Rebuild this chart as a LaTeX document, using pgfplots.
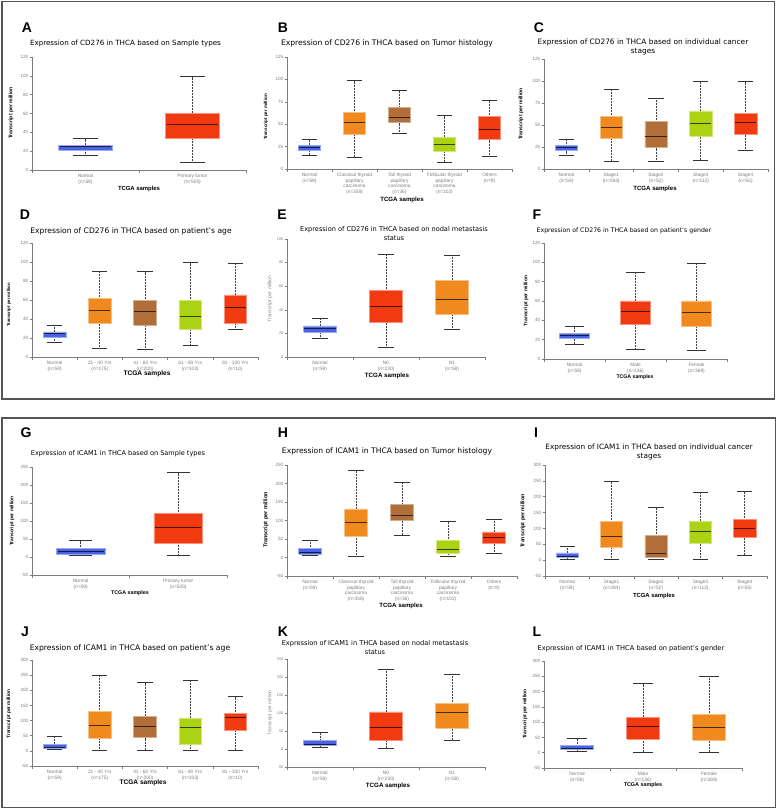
\documentclass[border=0pt]{standalone}
\usepackage{pgfplots}
\pgfplotsset{compat=1.18}
\usepackage{fontspec}
\setmainfont{DejaVu Sans}
\newfontfamily\lib{Liberation Sans}
\definecolor{cblue}{RGB}{74,98,228}
\definecolor{cred}{RGB}{242,58,16}
\definecolor{corange}{RGB}{240,138,30}
\definecolor{cbrown}{RGB}{178,110,56}
\definecolor{cgreen}{RGB}{172,210,20}
\definecolor{framec}{RGB}{85,85,85}
\definecolor{tickc}{RGB}{125,125,125}

\pgfplotsset{
  ual/.style={
    scale only axis, anchor=south west, clip=false,
    axis lines=left, axis line style={-, draw=tickc, line width=0.7pt},
    x axis line style={-}, y axis line style={-},
    xmin=0.5, tick align=outside,
    major tick length=2.5pt, minor tick length=2.5pt,
    tick style={draw=tickc, line width=0.6pt},
    every major x tick/.append style={draw=none},
    /pgf/number format/assume math mode=true,
    yticklabel style={font=\lib\fontsize{4.6}{5}\selectfont, text=tickc, inner sep=1pt},
    xticklabel style={font=\lib\fontsize{4.8}{5.8}\selectfont, text=tickc, align=center, inner sep=1.2pt},
  },
}
\def\capw{0.16}
% #1 colour, #2 position, #3 lower whisker, #4 Q1, #5 median, #6 Q3, #7 upper whisker
\newcommand{\bp}[7]{%
  \pgfmathsetmacro\bxL{#2-0.25}\pgfmathsetmacro\bxR{#2+0.25}%
  \pgfmathsetmacro\cpL{#2-\capw}\pgfmathsetmacro\cpR{#2+\capw}%
  \pgfmathsetmacro\mdL{#2-0.235}\pgfmathsetmacro\mdR{#2+0.235}%
  \edef\tmpplot{%
    \noexpand\addplot[draw=black!75, line width=0.7pt, dash pattern=on 0.7pt off 0.8pt] coordinates {(#2,#3) (#2,#4)};
    \noexpand\addplot[draw=black!75, line width=0.7pt, dash pattern=on 0.7pt off 0.8pt] coordinates {(#2,#6) (#2,#7)};
    \noexpand\addplot[draw=black!80, line width=0.7pt] coordinates {(\cpL,#3) (\cpR,#3)};
    \noexpand\addplot[draw=black!80, line width=0.7pt] coordinates {(\cpL,#7) (\cpR,#7)};
    \noexpand\addplot[fill=#1, draw=#1!55!white, line width=0.6pt] coordinates {(\bxL,#4) (\bxR,#4) (\bxR,#6) (\bxL,#6) (\bxL,#4)};
    \noexpand\addplot[draw=#1!30!black, line width=0.9pt] coordinates {(\mdL,#5) (\mdR,#5)};
  }\tmpplot}

\newcommand{\lett}[3]{\node[font=\lib\bfseries\fontsize{14}{14}\selectfont, inner sep=0pt] at (#1pt,-#2pt) {#3};}
\newcommand{\ttl}[4]{\node[font=\fontsize{#3}{9}\selectfont, align=center, inner sep=0pt] at (#1pt,-#2pt) {#4};}
\newcommand{\xl}[3]{\node[font=\lib\bfseries\fontsize{#3}{#3}\selectfont, inner sep=0pt] at (#1pt,-#2pt) {TCGA samples};}
\newcommand{\yl}[3]{\node[font=\lib\bfseries\fontsize{#3}{#3}\selectfont, rotate=90, inner sep=0pt] at (#1pt,-#2pt) {Transcript per million};}
\newcommand{\ylg}[3]{\node[font=\lib\fontsize{#3}{#3}\selectfont, text=black!45, rotate=90, inner sep=0pt] at (#1pt,-#2pt) {Transcript per million};}

\begin{document}
\begin{tikzpicture}
\fill[white] (0,0) rectangle (777pt,-809pt);
\useasboundingbox (0,0) rectangle (777pt,-809pt);
\draw[framec, line width=1.8pt] (2pt,-1.5pt) rectangle (774.5pt,-399pt);
\draw[framec, line width=1.8pt] (2pt,-418pt) rectangle (775.5pt,-807.5pt);

% ---------------- A
\def\capw{0.12}
\begin{axis}[ual, at={(32pt,-170pt)}, width=214pt, height=113pt,
  xmax=2.5, ymin=0, ymax=120, ytick={0,20,...,120},
  xtick={1,2}, minor xtick={0.5,1.5,2.5},
  xticklabels={{Normal\\(n=59)},{Primary tumor\\(n=505)}}]
\bp{cblue}{1}{15.5}{21}{24.5}{26.5}{33.3}
\bp{cred}{2}{7.8}{33.2}{48.4}{60.4}{99.2}
\end{axis}
% ---------------- B
\def\capw{0.17}
\begin{axis}[ual, at={(287pt,-169pt)}, width=225pt, height=112pt,
  xmax=5.5, ymin=0, ymax=125, ytick={0,25,...,125},
  xtick={1,...,5}, minor xtick={0.5,1.5,...,5.5},
  xticklabels={{Normal\\(n=59)},{Classical thyroid\\papillary\\carcinoma\\(n=358)},{Tall thyroid\\papillary\\carcinoma\\(n=36)},{Follicular thyroid\\papillary\\carcinoma\\(n=102)},{Others\\(n=9)}}]
\bp{cblue}{1}{15.5}{21}{24.6}{26.6}{33.3}
\bp{corange}{2}{13.3}{38.5}{51.4}{62.9}{98.7}
\bp{cbrown}{3}{39.9}{51.8}{57}{68.4}{87.6}
\bp{cgreen}{4}{7.8}{20}{27.7}{35.5}{59.5}
\bp{cred}{5}{14.1}{32.9}{44}{58.8}{76.6}
\end{axis}
% ---------------- C
\begin{axis}[ual, at={(544pt,-169pt)}, width=224pt, height=110pt,
  xmax=5.5, ymin=0, ymax=125, ytick={0,25,...,125},
  xtick={1,...,5}, minor xtick={0.5,1.5,...,5.5},
  xticklabels={{Normal\\(n=59)},{Stage1\\(n=284)},{Stage2\\(n=52)},{Stage3\\(n=112)},{Stage4\\(n=55)}}]
\bp{cblue}{1}{15.5}{21}{24.5}{26.5}{33.3}
\bp{corange}{2}{9.1}{34.4}{47.6}{59.7}{90.6}
\bp{cbrown}{3}{8.7}{24.2}{36.6}{54}{80.8}
\bp{cgreen}{4}{10.2}{37}{52.1}{66.1}{100.1}
\bp{cred}{5}{21.1}{38.9}{53.2}{63.4}{99.3}
\end{axis}
% ---------------- D
\begin{axis}[ual, at={(32pt,-357pt)}, width=226pt, height=114pt,
  xmax=5.5, ymin=0, ymax=120, ytick={0,20,...,120},
  xtick={1,...,5}, minor xtick={0.5,1.5,...,5.5},
  xticklabels={{Normal\\(n=59)},{21 - 40 Yrs\\(n=175)},{41 - 60 Yrs\\(n=200)},{61 - 80 Yrs\\(n=103)},{81 - 100 Yrs\\(n=10)}}]
\bp{cblue}{1}{15.5}{21}{24.5}{26.5}{33.3}
\bp{corange}{2}{8.8}{35.4}{49.5}{61.4}{90.2}
\bp{cbrown}{3}{8.1}{33.7}{48.1}{59.3}{89.8}
\bp{cgreen}{4}{11.9}{29.1}{43.2}{59.3}{99.3}
\bp{cred}{5}{28.8}{35.1}{51.9}{65.3}{98.6}
\end{axis}
% ---------------- E
\def\capw{0.12}
\begin{axis}[ual, at={(287pt,-357pt)}, width=198pt, height=118pt,
  xmax=3.5, ymin=0, ymax=100, ytick={0,20,...,100},
  yticklabel style={font=\lib\fontsize{3.8}{4}\selectfont},
  xtick={1,2,3}, minor xtick={0.5,1.5,2.5,3.5},
  xticklabels={{Normal\\(n=59)},{N0\\(n=230)},{N1\\(n=58)}}]
\bp{cblue}{1}{15.6}{21.3}{24.4}{26.4}{33}
\bp{cred}{2}{8.2}{29}{42.9}{56.3}{86.9}
\bp{corange}{3}{23.3}{36.1}{48.6}{65.1}{86.4}
\end{axis}
% ---------------- F
\def\capw{0.15}
\begin{axis}[ual, at={(544pt,-359pt)}, width=183pt, height=116pt,
  xmax=3.5, ymin=0, ymax=120, ytick={0,20,...,120},
  xtick={1,2,3}, minor xtick={0.5,1.5,2.5,3.5},
  xticklabels={{Normal\\(n=59)},{Male\\(n=136)},{Female\\(n=369)}}]
\bp{cblue}{1}{15.5}{21}{24.5}{26.5}{33.3}
\bp{cred}{2}{9.6}{36.4}{48.8}{60.2}{89.7}
\bp{corange}{3}{8.9}{33.4}{48.1}{60.2}{98.7}
\end{axis}
% ---------------- G
\def\capw{0.12}
\begin{axis}[ual, at={(32pt,-575pt)}, width=195pt, height=108pt,
  xmax=2.5, ymin=-50, ymax=250, ytick={-50,0,...,250},
  xtick={1,2}, minor xtick={0.5,1.5,2.5},
  xticklabels={{Normal\\(n=59)},{Primary tumor\\(n=505)}}]
\bp{cblue}{1}{5.2}{8.9}{14.4}{23.6}{45.7}
\bp{cred}{2}{3.4}{39.3}{81.6}{121.2}{234.4}
\end{axis}
% ---------------- H
\def\capw{0.17}
\begin{axis}[ual, at={(287pt,-576pt)}, width=230pt, height=111pt,
  xmax=5.5, ymin=-50, ymax=250, ytick={-50,0,...,250},
  xtick={1,...,5}, minor xtick={0.5,1.5,...,5.5},
  xticklabels={{Normal\\(n=59)},{Classical thyroid\\papillary\\carcinoma\\(n=358)},{Tall thyroid\\papillary\\carcinoma\\(n=36)},{Follicular thyroid\\papillary\\carcinoma\\(n=102)},{Others\\(n=9)}}]
\bp{cblue}{1}{5.1}{9.6}{15}{25}{46.7}
\bp{corange}{2}{3.3}{57.5}{94.6}{131.6}{234.6}
\bp{cbrown}{3}{61.1}{100}{114.5}{142.5}{203.9}
\bp{cgreen}{4}{3.3}{10.5}{22.3}{45.8}{96.4}
\bp{cred}{5}{10.5}{37.7}{53}{69.3}{103.6}
\end{axis}
% ---------------- I
\begin{axis}[ual, at={(545pt,-576pt)}, width=222pt, height=111pt,
  xmax=5.5, ymin=-50, ymax=300, ytick={-50,0,...,300},
  xtick={1,...,5}, minor xtick={0.5,1.5,...,5.5},
  xticklabels={{Normal\\(n=59)},{Stage1\\(n=284)},{Stage2\\(n=52)},{Stage3\\(n=112)},{Stage4\\(n=55)}}]
\bp{cblue}{1}{3.8}{8}{12.2}{22.7}{44.9}
\bp{corange}{2}{1.7}{39.6}{74.4}{121.8}{249.4}
\bp{cbrown}{3}{1.7}{9}{22.7}{77.6}{166.1}
\bp{cgreen}{4}{1.7}{52.3}{90.2}{122.9}{214.6}
\bp{cred}{5}{16.4}{73.3}{99.7}{128.2}{216.7}
\end{axis}
% ---------------- J
\begin{axis}[ual, at={(32pt,-766pt)}, width=226pt, height=106pt,
  xmax=5.5, ymin=-50, ymax=300, ytick={-50,0,...,300},
  xtick={1,...,5}, minor xtick={0.5,1.5,...,5.5},
  xticklabels={{Normal\\(n=59)},{21 - 40 Yrs\\(n=175)},{41 - 60 Yrs\\(n=200)},{61 - 80 Yrs\\(n=103)},{81 - 100 Yrs\\(n=10)}}]
\bp{cblue}{1}{3.9}{8.3}{12.7}{22.6}{46.9}
\bp{corange}{2}{1.7}{42.5}{84.3}{129.4}{250.5}
\bp{cbrown}{3}{2.8}{43.6}{81}{115.1}{225.2}
\bp{cgreen}{4}{1.7}{22.6}{76.6}{108.5}{234}
\bp{cred}{5}{2.8}{66.7}{111.8}{123.9}{178.9}
\end{axis}
% ---------------- K
\def\capw{0.12}
\begin{axis}[ual, at={(287pt,-767pt)}, width=198pt, height=108pt,
  xmax=3.5, ymin=-50, ymax=250, ytick={-50,0,...,250},
  yticklabel style={font=\lib\fontsize{3.8}{4}\selectfont},
  xtick={1,2,3}, minor xtick={0.5,1.5,2.5,3.5},
  xticklabels={{Normal\\(n=59)},{N0\\(n=230)},{N1\\(n=58)}}]
\bp{cblue}{1}{5.4}{10}{12.8}{22.9}{45.1}
\bp{cred}{2}{2.6}{22.9}{59.8}{103.2}{222.3}
\bp{corange}{3}{24.8}{57.1}{101.4}{126.3}{208.5}
\end{axis}
% ---------------- L
\def\capw{0.15}
\begin{axis}[ual, at={(544pt,-768pt)}, width=198pt, height=107pt,
  xmax=3.5, ymin=-50, ymax=300, ytick={-50,0,...,300},
  xtick={1,2,3}, minor xtick={0.5,1.5,2.5,3.5},
  xticklabels={{Normal\\(n=59)},{Male\\(n=136)},{Female\\(n=369)}}]
\bp{cblue}{1}{4.7}{10.2}{13.4}{23.3}{47.3}
\bp{cred}{2}{2.5}{45.2}{84.5}{116.3}{225.6}
\bp{corange}{3}{2.5}{40.8}{82.3}{125}{250.8}
\end{axis}

% ---------------- letters
\lett{27}{28}{A}\lett{283}{28}{B}\lett{539}{28}{C}
\lett{25}{215}{D}\lett{282}{215}{E}\lett{537}{215}{F}
\lett{26}{433}{G}\lett{283}{433}{H}\lett{536}{433}{I}
\lett{25}{632}{J}\lett{283}{632}{K}\lett{537}{632}{L}
% ---------------- titles
\ttl{125.5}{44}{7.14}{Expression of CD276 in THCA based on Sample types}
\ttl{387}{43}{7.6}{Expression of CD276 in THCA based on Tumor histology}
\ttl{643}{46.5}{7.4}{Expression of CD276 in THCA based on individual cancer\\stages}
\ttl{131}{231}{7.6}{Expression of CD276 in THCA based on patient's age}
\ttl{394}{233.5}{6.6}{Expression of CD276 in THCA based on nodal metastasis\\status}
\ttl{624}{231}{6.2}{Expression of CD276 in THCA based on patient's gender}
\ttl{118}{454}{6.56}{Expression of ICAM1 in THCA based on Sample types}
\ttl{387}{451}{7.59}{Expression of ICAM1 in THCA based on Tumor histology}
\ttl{649}{452}{7.33}{Expression of ICAM1 in THCA based on individual cancer\\stages}
\ttl{130}{648}{7.62}{Expression of ICAM1 in THCA based on patient's age}
\ttl{375}{648}{6.6}{Expression of ICAM1 in THCA based on nodal metastasis\\status}
\ttl{631}{649}{6.67}{Expression of ICAM1 in THCA based on patient's gender}
% ---------------- x labels
\xl{139}{189}{5.9}\xl{402}{200}{6.1}\xl{655}{189}{6.1}
\xl{147}{374}{6.6}\xl{387}{376}{6.2}\xl{635}{377}{5.2}
\xl{130}{593}{5.3}\xl{401}{606}{6.1}\xl{654}{596}{5.9}
\xl{143}{783}{6.6}\xl{388}{786}{6.2}\xl{643}{785}{5.4}
% ---------------- y labels
\yl{11}{113}{5.1}\yl{266}{117}{4.5}\yl{521}{114}{5.1}
\yl{9}{305}{4.3}\ylg{270}{299}{5.1}\yl{526}{301}{5.0}
\yl{12}{521}{4.9}\yl{266}{520}{5.5}\yl{523}{521}{5.3}
\yl{9}{714}{4.8}\ylg{270}{713}{4.9}\yl{525}{714}{4.9}
\end{tikzpicture}
\end{document}
